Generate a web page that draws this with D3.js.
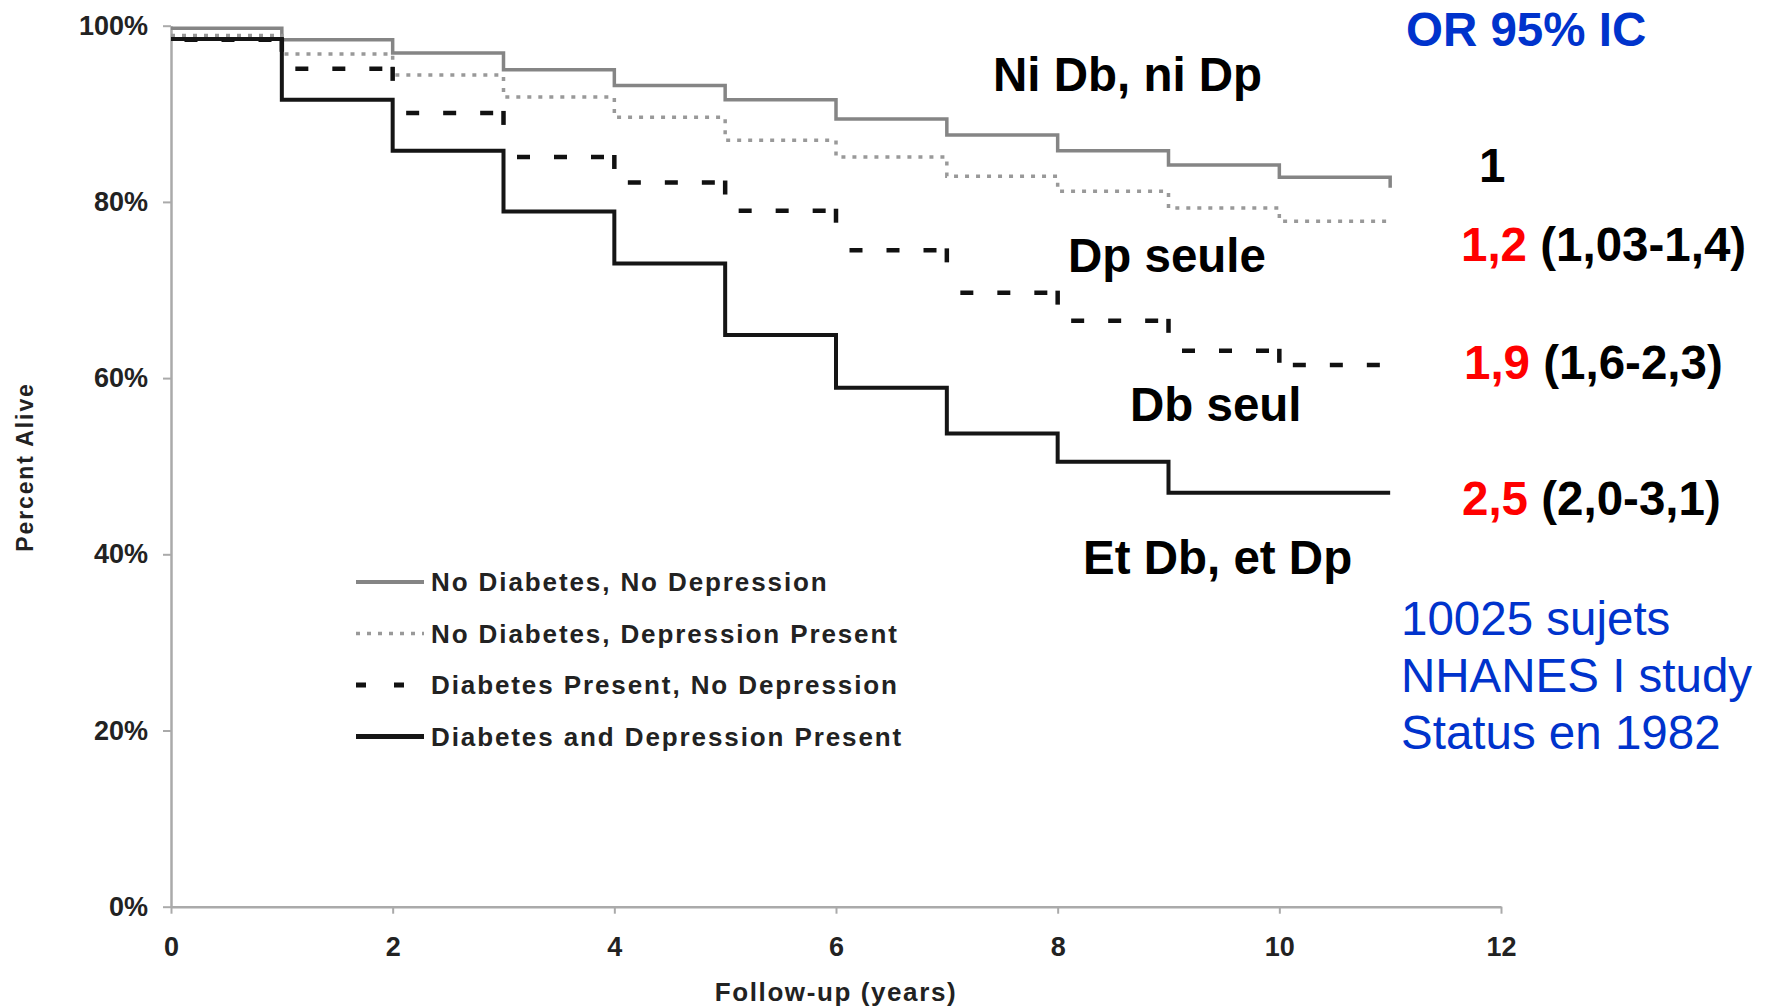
<!DOCTYPE html>
<html>
<head>
<meta charset="utf-8">
<script src="https://cdn.jsdelivr.net/npm/d3@7"></script>
<style>
    body { margin: 0; background: #fff; }
    svg { display: block; }
    text { font-family: "Liberation Sans", Arial, sans-serif; }
</style>
</head>
<body>
<svg id="chartSVG"></svg>
<script>
// Data (percent alive at each year of follow-up)
    const years = [0, 1, 2, 3, 4, 5, 6, 7, 8, 9, 10, 11];
    const noDbNoDp = [99.7, 98.4, 96.9, 95.0, 93.2, 91.6, 89.4, 87.6, 85.8, 84.2, 82.8, 81.6];
    const noDbDp   = [98.9, 96.8, 94.4, 91.9, 89.6, 87.0, 85.1, 82.9, 81.2, 79.3, 77.8, 77.8];
    const dbNoDp   = [98.4, 95.1, 90.1, 85.1, 82.2, 79.0, 74.5, 69.7, 66.5, 63.1, 61.5, 61.5];
    const dbDp     = [98.5, 91.6, 85.8, 78.9, 73.0, 64.9, 58.9, 53.7, 50.5, 47.0, 47.0, 47.0];

    const legendLabels = ["No Diabetes, No Depression", "No Diabetes, Depression Present",
                          "Diabetes Present, No Depression", "Diabetes and Depression Present"];
    const xTicks = [0, 2, 4, 6, 8, 10, 12];
    const yTicks = [0, 20, 40, 60, 80, 100];

    // right hand annotations
    const groupNames = ["Ni Db, ni Dp", "Dp seule", "Db seul", "Et Db, et Dp"];
    const orValues = ["1", "1,2", "1,9", "2,5"];
    const orIntervals = ["", "(1,03-1,4)", "(1,6-2,3)", "(2,0-3,1)"];
    const studyNotes = ["10025 sujets", "NHANES I study", "Status en 1982"];


//Size of the page
    const svgWidth = 1766,
          svgHeight = 1008;

    const svg = d3.select("#chartSVG")
                  .attr("width", svgWidth)
                  .attr("height", svgHeight);

    const xScale = d3.scaleLinear().domain([0, 12]).range([171, 1501]);
    const yScale = d3.scaleLinear().domain([0, 100]).range([906.7, 25.7]);


// F1: axes
    const yAxis = svg.append("g")
                     .attr("transform", `translate(${xScale(0)},0)`)
                     .call(d3.axisLeft(yScale).tickValues(yTicks).tickFormat(d => d + "%")
                             .tickSize(8).tickSizeOuter(0).tickPadding(15));

    const xAxis = svg.append("g")
                     .attr("transform", `translate(0,${yScale(0)})`)
                     .call(d3.axisBottom(xScale).tickValues(xTicks)
                             .tickSize(7).tickSizeOuter(0).tickPadding(23));

    [yAxis, xAxis].forEach(ax => {
        ax.select(".domain").style("stroke", "#aaa").style("stroke-width", 2.5);
        ax.selectAll(".tick line").style("stroke", "#aaa").style("stroke-width", 2);
        ax.selectAll(".tick text")
          .style("font-size", "27px")
          .style("font-weight", "bold")
          .style("fill", "#222");
    });

    svg.append("text")
       .attr("transform", `translate(33,467) rotate(-90)`)
       .attr("text-anchor", "middle")
       .style("font-size", "23px")
       .style("font-weight", "bold")
       .style("letter-spacing", "1.9px")
       .style("fill", "#222")
       .text("Percent Alive");

    svg.append("text")
       .attr("x", xScale(6))
       .attr("y", 1001)
       .attr("text-anchor", "middle")
       .style("font-size", "26px")
       .style("font-weight", "bold")
       .style("letter-spacing", "1.6px")
       .style("fill", "#222")
       .text("Follow-up (years)");


// F2: survival curves
    const stepLine = d3.line()
                       .x((d, i) => xScale(years[i]))
                       .y(d => yScale(d))
                       .curve(d3.curveStepAfter);

    svg.append("path")
       .attr("d", stepLine(noDbNoDp))
       .style("fill", "none")
       .style("stroke", "#858585")
       .style("stroke-width", 3.5);

    svg.append("path")
       .attr("d", stepLine(noDbDp))
       .style("fill", "none")
       .style("stroke", "#999")
       .style("stroke-width", 3.5)
       .style("stroke-dasharray", "4,7");

    // dashed curve: each step drawn on its own so the dashes restart at every year
    const dashedSteps = d3.range(years.length - 1);
    svg.selectAll(".dashH")
       .data(dashedSteps)
       .enter()
       .append("line")
       .attr("class", "dashH")
       .attr("x1", i => xScale(years[i]))
       .attr("x2", i => xScale(years[i + 1]))
       .attr("y1", i => yScale(dbNoDp[i]))
       .attr("y2", i => yScale(dbNoDp[i]))
       .style("stroke", "#111")
       .style("stroke-width", 4.5)
       .style("stroke-dasharray", "13,24")
       .style("stroke-dashoffset", 23.5);

    svg.selectAll(".dashV")
       .data(dashedSteps.filter(i => dbNoDp[i + 1] < dbNoDp[i]))
       .enter()
       .append("line")
       .attr("class", "dashV")
       .attr("x1", i => xScale(years[i + 1]))
       .attr("x2", i => xScale(years[i + 1]))
       .attr("y1", i => yScale(dbNoDp[i]) - 2)
       .attr("y2", i => Math.min(yScale(dbNoDp[i]) + 12, yScale(dbNoDp[i + 1])))
       .style("stroke", "#111")
       .style("stroke-width", 4.5);

    svg.append("path")
       .attr("d", stepLine(dbDp))
       .style("fill", "none")
       .style("stroke", "#151515")
       .style("stroke-width", 4);


// F3: legend
    const legendStyles = [
        {stroke: "#858585", width: 4, dash: null},
        {stroke: "#999", width: 3.5, dash: "4,7"},
        {stroke: "#111", width: 5, dash: "10,28"},
        {stroke: "#151515", width: 5, dash: null}
    ];

    const legendItems = svg.selectAll(".legendItem")
                           .data(legendLabels)
                           .enter()
                           .append("g")
                           .attr("class", "legendItem")
                           .attr("transform", (d, i) => `translate(356,${582 + i * 51.5})`);

    legendItems.append("line")
               .attr("x1", 0)
               .attr("x2", 68)
               .style("stroke", (d, i) => legendStyles[i].stroke)
               .style("stroke-width", (d, i) => legendStyles[i].width)
               .style("stroke-dasharray", (d, i) => legendStyles[i].dash);

    legendItems.append("text")
               .attr("x", 75)
               .attr("y", 9)
               .style("font-size", "26px")
               .style("font-weight", "bold")
               .style("letter-spacing", "1.9px")
               .style("fill", "#222")
               .text(d => d);


// F4: annotations on the right
    const groupPos = [[993, 91], [1068, 272], [1130, 421], [1083, 574]];
    svg.selectAll(".groupName")
       .data(groupNames)
       .enter()
       .append("text")
       .attr("class", "groupName")
       .attr("x", (d, i) => groupPos[i][0])
       .attr("y", (d, i) => groupPos[i][1])
       .style("font-size", "47.5px")
       .style("font-weight", "bold")
       .style("fill", "#000")
       .text(d => d);

    svg.append("text")
       .attr("x", 1406)
       .attr("y", 46)
       .style("font-size", "47.5px")
       .style("font-weight", "bold")
       .style("fill", "#0033cc")
       .text("OR 95% IC");

    const orPos = [[1479, 182], [1461, 261], [1464, 379], [1462, 515]];
    const orText = svg.selectAll(".orText")
                      .data(orValues)
                      .enter()
                      .append("text")
                      .attr("class", "orText")
                      .attr("x", (d, i) => orPos[i][0])
                      .attr("y", (d, i) => orPos[i][1])
                      .style("font-size", "47.5px")
                      .style("font-weight", "bold");

    orText.append("tspan")
          .style("fill", (d, i) => i === 0 ? "#000" : "#ff0000")
          .text(d => d);

    orText.append("tspan")
          .style("fill", "#000")
          .text((d, i) => orIntervals[i] ? " " + orIntervals[i] : "");

    svg.selectAll(".studyNote")
       .data(studyNotes)
       .enter()
       .append("text")
       .attr("class", "studyNote")
       .attr("x", 1401)
       .attr("y", (d, i) => 635 + i * 57.2)
       .style("font-size", "47.5px")
       .style("fill", "#0033cc")
       .text(d => d);
</script>
</body>
</html>
